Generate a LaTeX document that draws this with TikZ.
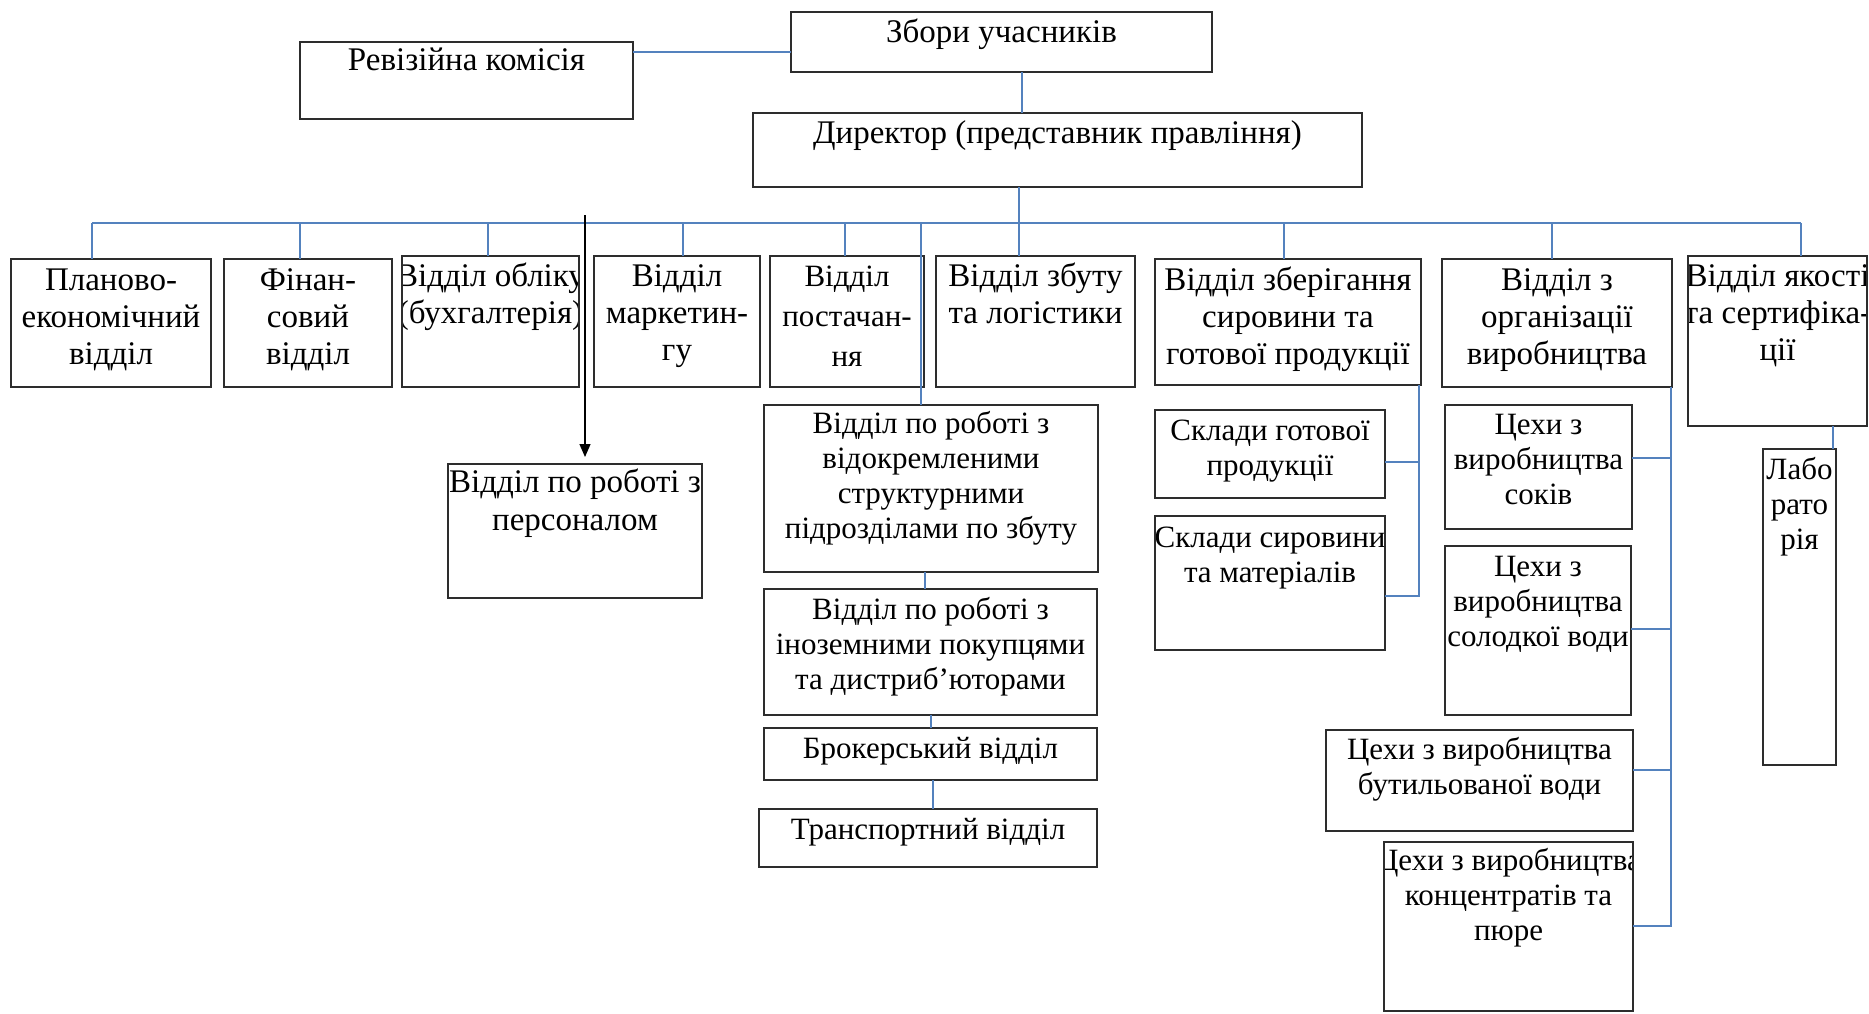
\documentclass[tikz,border=0pt]{standalone}
\usepackage{fontspec}
\setmainfont{Liberation Serif}
\usetikzlibrary{arrows.meta}
\definecolor{conblue}{RGB}{84,130,190}
\definecolor{boxgray}{RGB}{45,45,45}
\tikzset{
  boxtext/.style={inner sep=0pt, outer sep=0pt, anchor=north west},
  big/.style={font=\fontsize{33}{37}\selectfont},
  small/.style={font=\fontsize{31}{35}\selectfont},
  mid/.style={font=\fontsize{31}{40}\selectfont},
  perstyle/.style={font=\fontsize{33}{38}\selectfont},
  boxline/.style={draw=boxgray, line width=2pt},
  conn/.style={draw=conblue, line width=2pt},
  arr/.style={draw=black, line width=1.3pt, -{Triangle[length=13pt,width=11pt]}},
}
\newcommand\bx[8]{%
  \begin{scope}
    \clip (#2,#3) rectangle (#4,#5);
    \node[boxtext,#7] (#1) at (#2,#3) {\vbox to \dimexpr#5pt-#3pt\relax{\vskip\dimexpr#6pt-0.7\baselineskip\relax\hbox to \dimexpr#4pt-#2pt\relax{\hss\begin{tabular}[t]{@{}c@{}}#8\end{tabular}\hss}\vss}};
  \end{scope}
  \draw[boxline] (#1.north west) rectangle (#1.south east);
}
\begin{document}
\begin{tikzpicture}[x=1pt,y=-1pt]
\fill[white] (0,0) rectangle (1869,1013);
\useasboundingbox (0,0) rectangle (1869,1013);

\bx{zbory}{791}{12}{1212}{72}{30}{big}{Збори учасників}
\bx{rev}{300}{42}{633}{119}{28}{big}{Ревізійна комісія}
\bx{dir}{753}{113}{1362}{187}{30}{big}{Директор (представник правління)}
\bx{plan}{11}{259}{211}{387}{31}{big}{Планово-\\економічний\\відділ}
\bx{fin}{224}{259}{392}{387}{31}{big}{Фінан-\\совий\\відділ}
\bx{oblik}{402}{256}{579}{387}{30}{big}{Відділ обліку\\(бухгалтерія)}
\bx{market}{594}{256}{760}{387}{30}{big}{Відділ\\маркетин-\\гу}
\bx{postach}{770}{256}{924}{387}{30}{mid}{Відділ\\постачан-\\ня}
\bx{zbut}{936}{256}{1135}{387}{30}{big}{Відділ збуту\\та логістики}
\bx{zber}{1155}{259}{1421}{385}{31}{big}{Відділ зберігання\\сировини та\\готової продукції}
\bx{org}{1442}{259}{1672}{387}{31}{big}{Відділ з\\організації\\виробництва}
\bx{yak}{1688}{256}{1867}{426}{30}{big}{Відділ якості\\та сертифіка-\\ції}
\bx{pers}{448}{464}{702}{598}{28}{perstyle}{Відділ по роботі з\\персоналом}
\bx{vidokr}{764}{405}{1098}{572}{28}{small}{Відділ по роботі з\\відокремленими\\структурними\\підрозділами по збуту}
\bx{inozem}{764}{589}{1097}{715}{30}{small}{Відділ по роботі з\\іноземними покупцями\\та дистриб’юторами}
\bx{broker}{764}{728}{1097}{780}{30}{small}{Брокерський відділ}
\bx{transp}{759}{809}{1097}{867}{30}{small}{Транспортний відділ}
\bx{skl1}{1155}{410}{1385}{498}{30}{small}{Склади готової\\продукції}
\bx{skl2}{1155}{516}{1385}{650}{31}{small}{Склади сировини\\та матеріалів}
\bx{ts1}{1445}{405}{1632}{529}{29}{small}{Цехи з\\виробництва\\соків}
\bx{ts2}{1445}{546}{1631}{715}{30}{small}{Цехи з\\виробництва\\солодкої води}
\bx{ts3}{1326}{730}{1633}{831}{29}{small}{Цехи з виробництва\\бутильованої води}
\bx{ts4}{1384}{842}{1633}{1011}{28}{small}{Цехи з виробництва\\концентратів та\\пюре}
\bx{lab}{1763}{449}{1836}{765}{30}{small}{Лабо\\рато\\рія}

% connectors
\coordinate (busL) at (92,223);
\coordinate (busR) at (1801,223);
\draw[conn] (rev.east |- 0,52) -- (zbory.west |- 0,52);
\draw[conn] (zbory.south -| 1022,0) -- (dir.north -| 1022,0);
\draw[conn] (dir.south -| 1019,0) -- (zbut.north -| 1019,0);
\draw[conn] (busL) -- (busR);
\foreach \n/\x in {plan/92, fin/300, oblik/488, market/683, postach/845, zber/1284, org/1552, yak/1801}
  \draw[conn] (\x,223) -- (\n.north -| \x,0);
\draw[conn] (921,223) -- (vidokr.north -| 921,0);
\draw[conn] (vidokr.south -| 925,0) -- (inozem.north -| 925,0);
\draw[conn] (inozem.south -| 931,0) -- (broker.north -| 931,0);
\draw[conn] (broker.south -| 933,0) -- (transp.north -| 933,0);
\draw[conn] (zber.south -| 1419,0) -- (1419,596) -- (skl2.east |- 0,596);
\draw[conn] (skl1.east |- 0,462) -- (1419,462);
\draw[conn] (org.south -| 1671,0) -- (1671,926) -- (ts4.east |- 0,926);
\foreach \n/\y in {ts1/458, ts2/629, ts3/770}
  \draw[conn] (\n.east |- 0,\y) -- (1671,\y);
\draw[conn] (yak.south -| 1833,0) -- (lab.north -| 1833,0);
\coordinate (arrS) at (585,215);
\draw[arr, shorten >=7pt] (arrS) -- (pers.north -| 585,0);
\end{tikzpicture}
\end{document}
